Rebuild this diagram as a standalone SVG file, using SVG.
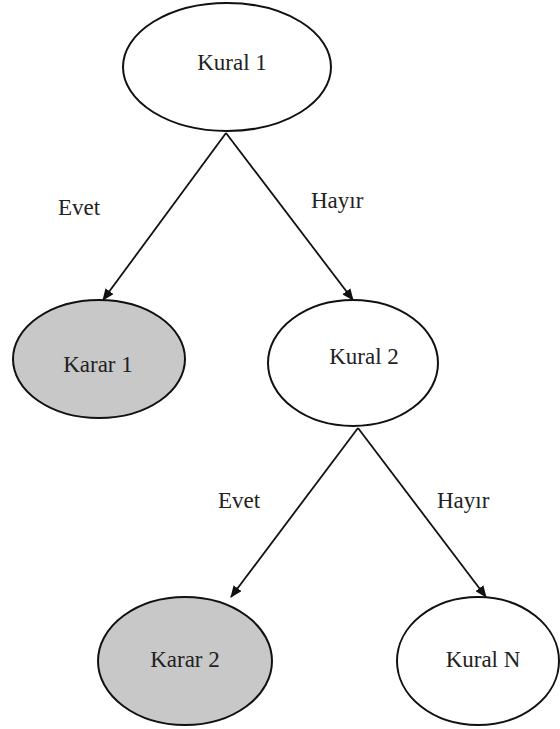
<svg xmlns="http://www.w3.org/2000/svg" width="560" height="729" viewBox="0 0 560 729">
<defs>
<style>
.node{stroke:#111;stroke-width:2;}
.rule{fill:#fff;}
.dec{fill:#c8c8c8;}
text{font-family:"Liberation Serif","Times New Roman",serif;font-size:23px;fill:#222;}
.c{text-anchor:middle;}
.edge{stroke:#111;stroke-width:1.8;fill:none;marker-end:url(#ah);}
</style>
<marker id="ah" viewBox="0 0 12 10" refX="11" refY="5" markerWidth="12" markerHeight="10" markerUnits="userSpaceOnUse" orient="auto">
<path d="M0,0 L12,5 L0,10 Z" fill="#111"/>
</marker>
</defs>
<rect width="560" height="729" fill="#fff"/>
<g id="connectors">
<line class="edge" x1="226" y1="133" x2="103" y2="300"/>
<line class="edge" x1="226" y1="133" x2="353" y2="300"/>
<line class="edge" x1="358" y1="428" x2="231" y2="597"/>
<line class="edge" x1="358" y1="428" x2="486" y2="597"/>
<text x="58" y="215">Evet</text>
<text x="311" y="208">Hayır</text>
<text x="218" y="508">Evet</text>
<text x="437" y="508">Hayır</text>
</g>
<g id="kural1">
<ellipse class="node rule" cx="227" cy="67" rx="104" ry="64"/>
<text class="c" x="232" y="70">Kural 1</text>
</g>
<g id="karar1">
<ellipse class="node dec" cx="99" cy="359" rx="86" ry="59"/>
<text class="c" x="98" y="372">Karar 1</text>
</g>
<g id="kural2">
<ellipse class="node rule" cx="353" cy="363" rx="85" ry="63"/>
<text class="c" x="364" y="364">Kural 2</text>
</g>
<g id="karar2">
<ellipse class="node dec" cx="185" cy="661" rx="87" ry="64"/>
<text class="c" x="185" y="667">Karar 2</text>
</g>
<g id="kuralN">
<ellipse class="node rule" cx="478" cy="661" rx="81" ry="64"/>
<text class="c" x="483" y="667">Kural N</text>
</g>
</svg>
